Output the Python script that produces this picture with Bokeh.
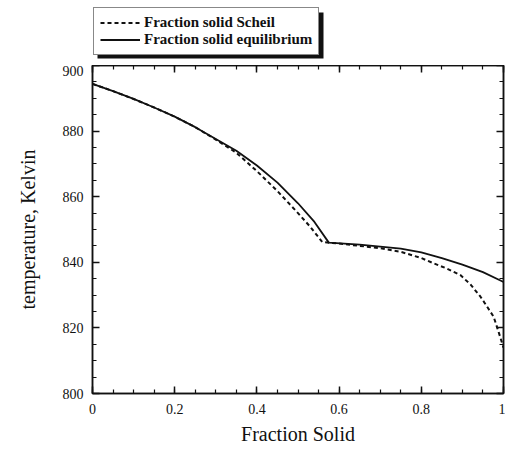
from bokeh.plotting import figure
from bokeh.layouts import column
from bokeh.models import (Legend, LegendItem, LinearAxis, FixedTicker,
                          BoxAnnotation, Range1d)
from bokeh.embed import file_html
from bokeh.resources import INLINE

# ---- data ----
eq_fs = [0.0, 0.05, 0.10, 0.15, 0.20, 0.25, 0.30, 0.35, 0.40, 0.45, 0.50,
         0.54, 0.575, 0.65, 0.75, 0.80, 0.85, 0.90, 0.95, 0.99, 1.0]
eq_T = [894.4, 892.2, 889.8, 887.2, 884.4, 881.2, 877.6, 874.0, 869.5, 864.3,
        858.0, 852.3, 846.0, 845.4, 844.2, 843.0, 841.3, 839.3, 837.0, 834.6, 834.0]

scheil_fs = [0.0, 0.05, 0.10, 0.15, 0.20, 0.25, 0.30, 0.35, 0.40, 0.45, 0.50,
             0.53, 0.559, 0.60, 0.65, 0.70, 0.75, 0.80, 0.83, 0.86, 0.895,
             0.92, 0.944, 0.96, 0.976, 0.989, 1.0]
scheil_T = [894.4, 892.2, 889.8, 887.2, 884.4, 881.2, 877.4, 873.4, 867.8,
            861.7, 855.0, 850.8, 846.2, 845.7, 845.0, 844.3, 843.2, 841.3,
            839.7, 838.2, 836.1, 833.2, 829.5, 826.5, 823.4, 818.4, 814.0]

x_ticks = [0, 0.2, 0.4, 0.6, 0.8, 1.0]
x_tick_labels = ["0", "0.2", "0.4", "0.6", "0.8", "1"]
y_ticks = [800, 820, 840, 860, 880, 900]
y_tick_labels = ["800", "820", "840", "860", "880", "900"]
x_minor = [i / 20 for i in range(21)]
y_minor = list(range(800, 901, 5))

series_labels = ["Fraction solid Scheil", "Fraction solid equilibrium"]

FONT = "Liberation Serif"
INK = "#111111"

# ---------------- main plot ----------------
p = figure(width=505, height=387, output_backend="svg", toolbar_location=None,
           x_range=Range1d(0, 1), y_range=Range1d(800, 900),
           x_axis_type=None, y_axis_type=None,
           min_border_left=92, min_border_right=2, min_border_top=0,
           min_border_bottom=59)
p.grid.visible = False
p.outline_line_color = INK
p.outline_line_width = 1.5
p.background_fill_color = "white"
p.border_fill_color = "white"


def make_axis(ticks, minor, labels, show_labels, label=None):
    ax = LinearAxis(ticker=FixedTicker(ticks=ticks, minor_ticks=minor))
    ax.major_tick_in = 7
    ax.major_tick_out = 0
    ax.minor_tick_in = 4
    ax.minor_tick_out = 0
    ax.axis_line_color = INK
    ax.axis_line_width = 1.5
    ax.major_tick_line_color = INK
    ax.major_tick_line_width = 1.5
    ax.minor_tick_line_color = INK
    ax.minor_tick_line_width = 1.2
    ax.major_label_text_font = FONT
    ax.major_label_text_color = INK
    if show_labels:
        ax.major_label_overrides = {t: l for t, l in zip(ticks, labels)}
        ax.major_label_text_font_size = "14px"
    else:
        ax.major_label_overrides = {t: "" for t in ticks}
        ax.major_label_text_font_size = "1px"
        ax.major_label_standoff = 0
    if label:
        ax.axis_label = label
        ax.axis_label_text_font = FONT
        ax.axis_label_text_font_size = "20px"
        ax.axis_label_text_font_style = "normal"
        ax.axis_label_text_color = INK
    return ax


bottom = make_axis(x_ticks, x_minor, x_tick_labels, True, "Fraction Solid")
bottom.major_label_standoff = 10
bottom.axis_label_standoff = 6
left = make_axis(y_ticks, y_minor, y_tick_labels, True, "temperature, Kelvin")
left.major_label_standoff = 9
left.axis_label_standoff = 21
top = make_axis(x_ticks, x_minor, x_tick_labels, False)
right = make_axis(y_ticks, y_minor, y_tick_labels, False)
p.add_layout(bottom, "below")
p.add_layout(left, "left")
p.add_layout(top, "above")
p.add_layout(right, "right")

r_scheil = p.line(scheil_fs, scheil_T, line_color=INK, line_width=2,
                  line_dash="4 3")
r_eq = p.line(eq_fs, eq_T, line_color=INK, line_width=1.8)

# ---------------- legend strip above the plot ----------------
lg = figure(width=505, height=65, output_backend="svg", toolbar_location=None,
            x_range=Range1d(0, 505), y_range=Range1d(65, 0),
            x_axis_type=None, y_axis_type=None,
            min_border_left=0, min_border_right=0, min_border_top=0,
            min_border_bottom=0)
lg.grid.visible = False
lg.outline_line_color = None
lg.background_fill_color = "white"
lg.border_fill_color = "white"

# off-range handles that only serve as legend swatches
k_scheil = lg.line([-100, -90], [-100, -100], line_color=INK, line_width=2,
                   line_dash="4 3")
k_eq = lg.line([-100, -90], [-100, -100], line_color=INK, line_width=1.8)

# drop shadow of the legend box (canvas pixels)
shadow = BoxAnnotation(left=97, right=323, top=12, bottom=58,
                       left_units="canvas", right_units="canvas",
                       top_units="canvas", bottom_units="canvas",
                       fill_color=INK, fill_alpha=1.0, line_color=None)
lg.add_layout(shadow, "center")

legend = Legend(items=[LegendItem(label=series_labels[0], renderers=[k_scheil]),
                       LegendItem(label=series_labels[1], renderers=[k_eq])],
                location=(1, 10))
legend.label_text_font = FONT
legend.label_text_font_size = "15px"
legend.label_text_font_style = "bold"
legend.label_text_color = INK
legend.glyph_width = 40
legend.glyph_height = 15
legend.label_height = 15
legend.label_standoff = 4
legend.spacing = 0
legend.padding = 6
legend.margin = 0
legend.border_line_color = INK
legend.border_line_width = 1.5
legend.background_fill_color = "white"
legend.background_fill_alpha = 1.0
lg.add_layout(legend, "center")

layout = column(lg, p, spacing=0)
open("out.html", "w").write(file_html(layout, INLINE))
